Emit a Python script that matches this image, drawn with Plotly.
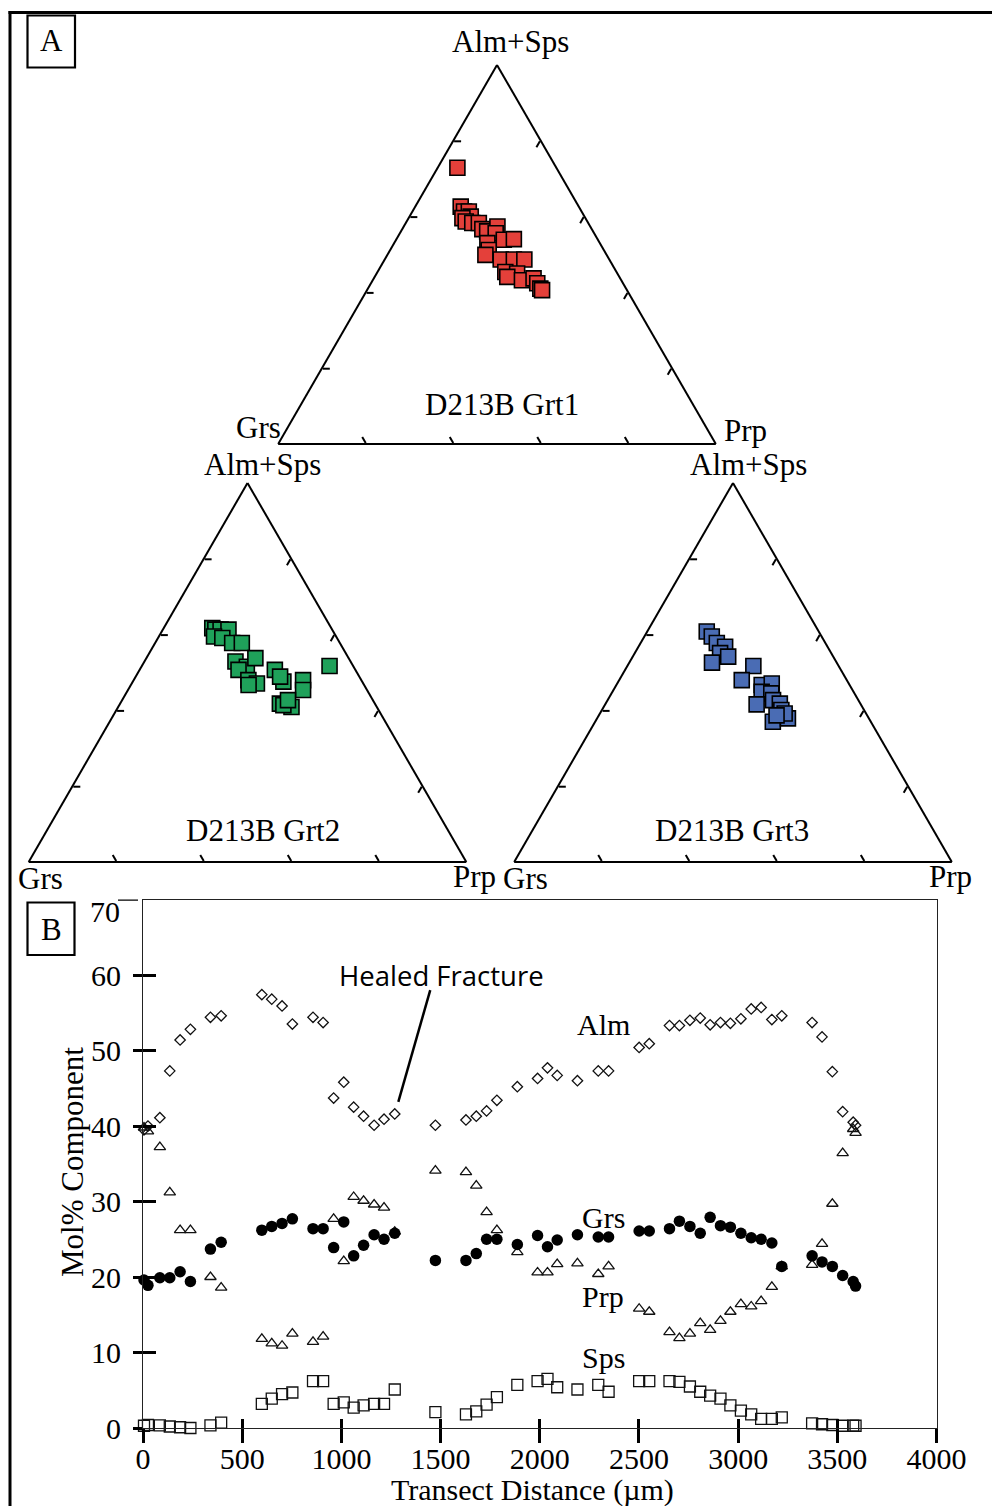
import plotly.graph_objects as go

W, H = 992, 1506
SERIF = "Liberation Serif, Times New Roman, serif"
SANS = "Open Sans, Noto Sans, sans-serif"

# ---------------- Panel A: ternary data (mol%) ----------------
grt1_almsps = [72.9, 62.7, 61.4, 61.4, 60.0, 59.6, 58.7, 58.3, 58.3, 56.7, 56.1, 57.4, 55.6, 53.9, 54.0,
               53.0, 51.2, 49.9, 48.7, 48.7, 48.7, 45.4, 45.0, 44.1, 43.2, 43.7, 42.4, 41.0, 40.6]
grt1_grs = [22.6, 27.0, 26.9, 25.8, 26.0, 28.1, 27.8, 26.5, 25.0, 25.0, 24.2, 21.2, 22.5, 21.5, 19.1,
            25.7, 26.3, 27.7, 24.8, 21.8, 19.4, 25.4, 22.9, 25.6, 22.7, 19.8, 19.6, 19.6, 19.4]
grt1_prp = [4.5, 10.4, 11.8, 12.9, 14.0, 12.3, 13.5, 15.2, 16.7, 18.3, 19.7, 21.4, 21.9, 24.6, 26.8,
            21.3, 22.5, 22.4, 26.5, 29.5, 31.9, 29.2, 32.1, 30.3, 34.1, 36.5, 38.0, 39.4, 40.0]

grt2_almsps = [61.7, 61.3, 61.3, 61.3, 59.5, 59.1, 57.8, 57.8, 52.9, 51.5, 53.8, 50.7, 48.0, 47.1, 50.7,
               47.6, 48.9, 46.7, 48.0, 45.4, 41.8, 40.9, 41.4, 42.7, 51.7]
grt2_grs = [27.2, 26.7, 25.5, 23.7, 27.9, 26.2, 24.6, 22.4, 26.3, 24.4, 21.3, 26.7, 25.8, 24.3, 18.4,
            18.0, 18.1, 26.4, 13.3, 14.6, 21.7, 19.5, 21.1, 19.4, 5.4]
grt2_prp = [11.1, 12.0, 13.2, 15.0, 12.6, 14.7, 17.6, 19.8, 20.8, 24.1, 24.9, 22.6, 26.2, 28.6, 30.9,
            34.4, 33.0, 26.9, 38.7, 40.0, 36.5, 39.6, 37.5, 37.9, 42.9]

grt3_almsps = [60.8, 59.5, 57.8, 56.8, 55.1, 54.2, 52.6, 51.7, 48.0, 46.7, 47.1, 44.9, 44.5, 41.6, 42.7,
               41.8, 40.1, 37.0, 37.9, 39.2, 38.7]
grt3_grs = [25.6, 25.1, 24.8, 23.4, 25.4, 24.0, 28.5, 19.5, 24.0, 20.1, 17.6, 21.0, 19.0, 23.8, 19.5,
            18.4, 18.9, 22.4, 18.5, 18.6, 20.7]
grt3_prp = [13.6, 15.4, 17.4, 19.8, 19.5, 21.8, 18.9, 28.8, 28.0, 33.2, 35.3, 34.1, 36.5, 34.6, 37.8,
            39.8, 41.0, 40.6, 43.6, 42.2, 40.6]

# ---------------- Panel B: transect data ----------------
dist = [5, 25, 85, 135, 187, 239, 340, 394, 599, 649, 701, 753, 857, 908, 961, 1012, 1062, 1112, 1165,
        1215, 1269, 1474, 1628, 1680, 1732, 1784, 1887, 1989, 2039, 2088, 2190, 2295, 2347, 2501, 2552,
        2654, 2704, 2757, 2809, 2859, 2911, 2961, 3014, 3066, 3116, 3170, 3220, 3373, 3423, 3475, 3527,
        3580, 3592]
alm = [39.5, 40.0, 41.1, 47.3, 51.4, 52.8, 54.4, 54.6, 57.4, 56.8, 55.9, 53.5, 54.4, 53.7, 43.7, 45.8,
       42.5, 41.3, 40.1, 40.9, 41.6, 40.1, 40.8, 41.3, 42.0, 43.4, 45.2, 46.3, 47.7, 46.7, 46.0, 47.3,
       47.3, 50.4, 50.9, 53.3, 53.3, 54.0, 54.3, 53.4, 53.7, 53.6, 54.2, 55.5, 55.7, 54.1, 54.6, 53.7,
       51.8, 47.2, 41.9, 40.5, 40.1]
grs = [19.6, 18.9, 19.9, 19.9, 20.7, 19.4, 23.7, 24.6, 26.2, 26.7, 27.1, 27.7, 26.4, 26.4, 23.9, 27.3,
       22.8, 24.2, 25.6, 25.0, 25.8, 22.2, 22.2, 23.1, 25.0, 25.0, 24.3, 25.5, 24.0, 24.9, 25.6, 25.3,
       25.3, 26.1, 26.1, 26.4, 27.4, 26.7, 25.8, 27.9, 26.8, 26.6, 25.8, 25.2, 25.0, 24.5, 21.4, 22.8,
       22.0, 21.4, 20.2, 19.4, 18.8]
prp = [39.8, 39.3, 37.2, 31.2, 26.2, 26.2, 20.0, 18.6, 11.8, 11.2, 10.9, 12.5, 11.4, 12.1, 27.7, 22.1,
       30.6, 30.1, 29.6, 29.2, 26.0, 34.1, 33.9, 32.1, 28.6, 26.2, 23.3, 20.6, 20.6, 21.7, 21.8, 20.4,
       21.4, 15.8, 15.4, 12.7, 11.9, 12.5, 13.9, 13.0, 14.2, 15.4, 16.4, 16.1, 16.8, 18.7, 21.4, 21.6,
       24.4, 29.7, 36.4, 39.6, 39.1]
sps = [0.3, 0.4, 0.35, 0.2, 0.1, 0.0, 0.35, 0.7, 3.2, 3.9, 4.5, 4.7, 6.2, 6.2, 3.2, 3.4, 2.7, 3.0, 3.2,
       3.2, 5.1, 2.1, 1.8, 2.2, 3.1, 4.1, 5.7, 6.2, 6.5, 5.4, 5.1, 5.7, 4.8, 6.2, 6.2, 6.2, 6.1, 5.5, 4.8,
       4.3, 3.9, 3.0, 2.3, 1.8, 1.2, 1.2, 1.4, 0.6, 0.5, 0.4, 0.3, 0.3, 0.3]

xticks = [0, 500, 1000, 1500, 2000, 2500, 3000, 3500, 4000]
yticks = [0, 10, 20, 30, 40, 50, 60]
ytop = 70


def px_x(x):
    return x / W


def px_y(y):
    return 1 - y / H


def tern_domain(x0, x1, y0, y1):
    return dict(x=[px_x(x0), px_x(x1)], y=[px_y(y1), px_y(y0)])


fig = go.Figure()

tern_sets = [
    ("ternary", grt1_almsps, grt1_grs, grt1_prp, "#e4403a"),
    ("ternary2", grt2_almsps, grt2_grs, grt2_prp, "#1fa15a"),
    ("ternary3", grt3_almsps, grt3_grs, grt3_prp, "#4a6cb4"),
]
for sub, a, b, c, col in tern_sets:
    fig.add_trace(go.Scatterternary(
        a=a, b=b, c=c, subplot=sub, mode="markers", showlegend=False, cliponaxis=False,
        marker=dict(symbol="square", size=15, color=col, line=dict(color="black", width=1.6))))

# Panel B traces
open_line = dict(color="#111111", width=1.3)
fig.add_trace(go.Scatter(x=dist, y=alm, mode="markers", name="Alm", showlegend=False, cliponaxis=False,
                         marker=dict(symbol="diamond-open", size=8, color="#111111", line=open_line)))
fig.add_trace(go.Scatter(x=dist, y=sps, mode="markers", name="Sps", showlegend=False, cliponaxis=False,
                         marker=dict(symbol="square-open", size=11, color="#111111", line=open_line)))
fig.add_trace(go.Scatter(x=dist, y=prp, mode="markers", name="Prp", showlegend=False, cliponaxis=False,
                         marker=dict(symbol="triangle-up-open", size=10, color="#111111", line=open_line)))
fig.add_trace(go.Scatter(x=dist, y=grs, mode="markers", name="Grs", showlegend=False, cliponaxis=False,
                         marker=dict(symbol="circle", size=11.5, color="black")))
# overlay axes for the inner half of crossing ticks
fig.add_trace(go.Scatter(x=[None], y=[None], xaxis="x2", yaxis="y2", showlegend=False, hoverinfo="skip"))

tern_axis = dict(showgrid=False, showline=True, linecolor="black", linewidth=2, ticks="inside",
                 ticklen=7, tickwidth=1.5, tickcolor="black", tickvals=[20, 40, 60, 80],
                 showticklabels=False, title=dict(text=""))


def tern_layout(x0, x1, y0, y1):
    return dict(domain=tern_domain(x0, x1, y0, y1), sum=100, bgcolor="white",
                aaxis=tern_axis, baxis=tern_axis, caxis=tern_axis)


xdom = [px_x(143), px_x(936.5)]
ydom = [px_y(1428), px_y(899.5)]

fig.update_layout(
    template="none",
    width=W, height=H, autosize=False, margin=dict(l=0, r=0, t=0, b=0, pad=0),
    paper_bgcolor="white", plot_bgcolor="white",
    font=dict(family=SERIF, size=30, color="black"),
    ternary=tern_layout(278, 716, 65, 444),
    ternary2=tern_layout(27, 468, 483, 862),
    ternary3=tern_layout(513, 953, 483, 862),
    xaxis=dict(domain=xdom, range=[0, 4000], tickvals=xticks, ticks="outside", ticklen=14,
               tickwidth=2.5, tickcolor="black", showline=True, linecolor="#222222", linewidth=1.2,
               mirror=True, showgrid=False, zeroline=False, anchor="y", automargin=False,
               tickfont=dict(family=SERIF, size=30), ticklabelstandoff=-10),
    yaxis=dict(domain=ydom, range=[0, ytop], tickvals=yticks, ticks="outside", ticklen=9,
               tickwidth=2.5, tickcolor="black", showline=True, linecolor="#222222", linewidth=1.2,
               mirror=True, showgrid=False, zeroline=False, anchor="x", automargin=False,
               tickfont=dict(family=SERIF, size=30), ticklabelstandoff=6),
    xaxis2=dict(domain=xdom, range=[0, 4000], tickvals=xticks[:-1], ticks="inside", ticklen=9,
                tickwidth=2.5, tickcolor="black", showline=False, showgrid=False, zeroline=False,
                showticklabels=False, overlaying="x", anchor="y2", automargin=False),
    yaxis2=dict(domain=ydom, range=[0, ytop], tickvals=yticks, ticks="inside", ticklen=13,
                tickwidth=2.5, tickcolor="black", showline=False, showgrid=False, zeroline=False,
                showticklabels=False, overlaying="y", anchor="x2", automargin=False),
)

shapes = [
    # outer frame (top and left)
    dict(type="line", xref="paper", yref="paper", x0=px_x(8.5), x1=1.0, y0=px_y(12.5), y1=px_y(12.5),
         line=dict(color="black", width=3)),
    dict(type="line", xref="paper", yref="paper", x0=px_x(10), x1=px_x(10), y0=px_y(11), y1=0,
         line=dict(color="black", width=3)),
    # panel label boxes
    dict(type="rect", xref="paper", yref="paper", x0=px_x(27.5), x1=px_x(75), y0=px_y(67.5), y1=px_y(15.5),
         line=dict(color="black", width=2.2)),
    dict(type="rect", xref="paper", yref="paper", x0=px_x(27.5), x1=px_x(74.5), y0=px_y(955), y1=px_y(902.5),
         line=dict(color="black", width=2.2)),
    # top (70) tick, drawn slightly detached as in the original
    dict(type="line", xref="paper", yref="y", x0=px_x(118), x1=px_x(138), y0=ytop, y1=ytop,
         line=dict(color="black", width=2.5)),
    # healed fracture pointer
    dict(type="line", xref="x", yref="y", x0=1448, y0=58.0, x1=1287, y1=43.2,
         line=dict(color="black", width=2.5)),
]
fig.update_layout(shapes=shapes)

ann = []


def add_text(text, x, y, size=31, family=SERIF, xanchor="center", angle=0):
    ann.append(dict(text=text, x=px_x(x), y=px_y(y), xref="paper", yref="paper", showarrow=False,
                    xanchor=xanchor, yanchor="middle", textangle=angle,
                    font=dict(family=family, size=size, color="black")))


add_text("A", 51, 41)
add_text("B", 51, 929)
# triangle 1
add_text("Alm+Sps", 510, 42)
add_text("Grs", 258, 428)
add_text("Prp", 745, 431)
add_text("D213B Grt1", 502, 404)
# triangle 2
add_text("Alm+Sps", 262, 465)
add_text("Grs", 40, 878)
add_text("Prp", 474, 876)
add_text("D213B Grt2", 263, 831)
# triangle 3
add_text("Alm+Sps", 748, 465)
add_text("Grs", 525, 878)
add_text("Prp", 950, 876)
add_text("D213B Grt3", 732, 831)
# panel B
add_text(str(ytop), 122, 911, size=30, xanchor="right")
add_text("Mol% Component", 72, 1162, angle=-90)
add_text("Transect Distance (µm)", 532, 1490, size=30)
add_text("Healed Fracture", 441, 975, size=27.5, family=SANS)

for t, yv in [("Alm", 53.5), ("Grs", 27.9), ("Prp", 17.4), ("Sps", 9.3)]:
    ann.append(dict(text=t, x=2320, y=yv, xref="x", yref="y", showarrow=False, xanchor="center",
                    yanchor="middle", font=dict(family=SERIF, size=30, color="black")))

fig.update_layout(annotations=ann)

fig.write_html("out.html")
